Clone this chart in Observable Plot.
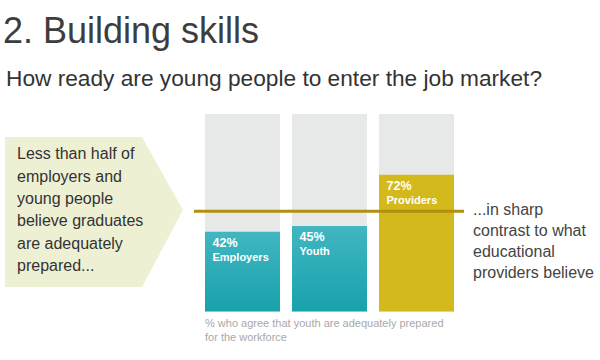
<!DOCTYPE html>
<html>
<head>
<meta charset="utf-8">
<script src="https://cdn.jsdelivr.net/npm/d3@7"></script>
<script src="https://cdn.jsdelivr.net/npm/@observablehq/plot@0.6"></script>
<style>
  html, body { margin: 0; padding: 0; background: #fff; }
  body { width: 600px; height: 360px; position: relative; overflow: hidden; font-family: "Liberation Sans", Arial, sans-serif; }
  #header { height: 100px; position: relative; }
  #title { position: absolute; left: 3px; top: 12.5px; font-size: 36px; line-height: 36px; color: #3d3d3d; font-weight: 300; white-space: nowrap; }
  #subtitle { position: absolute; left: 6px; top: 66.7px; font-size: 22.7px; line-height: 22.7px; color: #333; white-space: nowrap; }
  #chart { position: absolute; left: 0; top: 100px; }
  #callout { position: absolute; left: 5px; top: 137px; width: 178px; height: 150px; background: #eef0d3;
             clip-path: polygon(0 0, 137px 0, 178px 73px, 137px 150px, 0 150px); }
  #callout-text { position: absolute; left: 17px; top: 143.25px; font-size: 16px; line-height: 22.4px; color: #333; white-space: nowrap; }
  #right-text { position: absolute; left: 473px; top: 198.5px; font-size: 16px; line-height: 21px; color: #444; white-space: nowrap; }
  #caption { position: absolute; left: 205px; top: 317.4px; font-size: 11px; line-height: 13.5px; color: #a8a8a8; white-space: nowrap; }
</style>
</head>
<body>
<div id="header">
  <div id="title">2. Building skills</div>
  <div id="subtitle">How ready are young people to enter the job market?</div>
</div>
<div id="callout"></div>
<div id="callout-text">Less than half of<br>employers and<br>young people<br>believe graduates<br>are adequately<br>prepared...</div>
<div id="right-text">...in sharp<br>contrast to what<br>educational<br>providers believe</div>
<div id="chart"></div>
<div id="caption">% who agree that youth are adequately prepared<br>for the workforce</div>
<script>
// ---- data ----
const groups = ["Employers", "Youth", "Providers"];
const shares = [42, 45, 72];
const shareLabels = ["42%", "45%", "72%"];
const average = 53;      // mean of the three shares
const scaleMax = 104;    // top of the grey background columns

const rows = groups.map((g, i) => ({group: g, share: shares[i], label: shareLabels[i], max: scaleMax}));

const gold = "#d4b91c";
const grey = "#e7e8e8";

const plot = Plot.plot({
  width: 600,
  height: 260,
  marginLeft: 205,
  marginRight: 146,
  marginTop: 14,
  marginBottom: 48.5,
  style: {fontFamily: "Liberation Sans, Arial, sans-serif", background: "transparent", overflow: "visible"},
  x: {domain: groups, axis: null, paddingInner: 0.138, paddingOuter: 0},
  y: {domain: [0, scaleMax], axis: null},
  marks: [
    Plot.barY(rows, {x: "group", y: "max", fill: grey}),
    Plot.barY(rows, {x: "group", y: "share", fill: d => d.group === "Providers" ? gold : "url(#tealGrad)"}),
    Plot.ruleY([average], {stroke: "#b28f0c", strokeWidth: 3, insetLeft: -11, insetRight: -10}),
    Plot.text(rows, {x: "group", y: "share", text: "label", fill: "white", fontWeight: "bold", fontSize: 12.5,
      textAnchor: "start", lineAnchor: "top", dx: -30.5, dy: 5.8}),
    Plot.text(rows, {x: "group", y: "share", text: "group", fill: "white", fontWeight: "bold", fontSize: 11,
      textAnchor: "start", lineAnchor: "top", dx: -30.5, dy: 20.7})
  ]
});

const svg = d3.select(plot);
const defs = svg.insert("defs", ":first-child");
const grad = defs.append("linearGradient").attr("id", "tealGrad")
  .attr("x1", 0).attr("y1", 0).attr("x2", 0).attr("y2", 1);
grad.append("stop").attr("offset", "0%").attr("stop-color", "#41b6c1");
grad.append("stop").attr("offset", "100%").attr("stop-color", "#18a2ac");

document.getElementById("chart").appendChild(plot);
</script>
</body>
</html>
